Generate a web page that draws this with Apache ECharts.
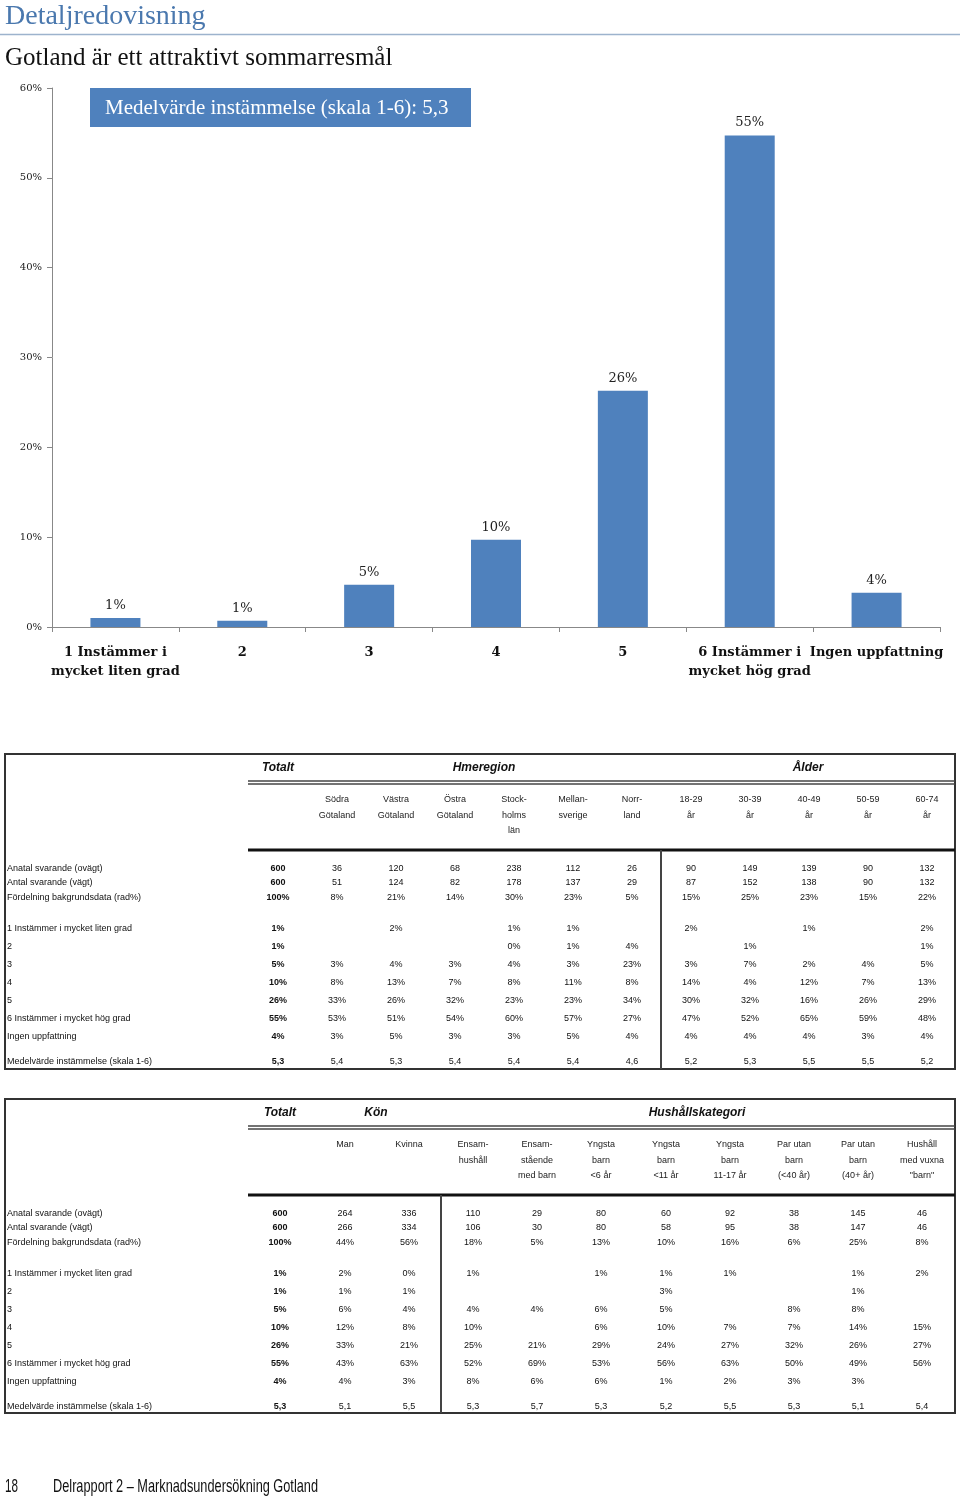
<!DOCTYPE html>
<html><head><meta charset="utf-8">
<script src="https://cdn.jsdelivr.net/npm/echarts@6/dist/echarts.min.js"></script>
<style>html,body{margin:0;padding:0;background:#fff}#c{width:960px;height:1499px}</style>
</head><body><div id="c"></div>
<script>
// ---------- Chart data ----------
const categories = ["1 Instämmer i\nmycket liten grad", "2", "3", "4", "5", "6 Instämmer i\nmycket hög grad", "Ingen uppfattning"];
const shares = [1.0, 0.7, 4.7, 9.7, 26.3, 54.7, 3.8];
const shareLabels = ["1%", "1%", "5%", "10%", "26%", "55%", "4%"];
const yTicks = [0, 10, 20, 30, 40, 50, 60];
const meanText = "Medelvärde instämmelse (skala 1-6): 5,3";

// ---------- Table data ----------
const rowLabels = ["Anatal svarande (ovägt)", "Antal svarande (vägt)", "Fördelning bakgrundsdata (rad%)",
  "1 Instämmer i mycket liten grad", "2", "3", "4", "5", "6 Instämmer i mycket hög grad", "Ingen uppfattning",
  "Medelvärde instämmelse (skala 1-6)"];

const t1Groups = ["Totalt", "Hmeregion", "Ålder"];
const t1Cols = ["", "Södra\nGötaland", "Västra\nGötaland", "Östra\nGötaland", "Stock-\nholms\nlän", "Mellan-\nsverige", "Norr-\nland",
  "18-29\når", "30-39\når", "40-49\når", "50-59\når", "60-74\når"];
const t1Unweighted = ["600", "36", "120", "68", "238", "112", "26", "90", "149", "139", "90", "132"];
const t1Weighted = ["600", "51", "124", "82", "178", "137", "29", "87", "152", "138", "90", "132"];
const t1Dist = ["100%", "8%", "21%", "14%", "30%", "23%", "5%", "15%", "25%", "23%", "15%", "22%"];
const t1R1 = ["1%", "", "2%", "", "1%", "1%", "", "2%", "", "1%", "", "2%"];
const t1R2 = ["1%", "", "", "", "0%", "1%", "4%", "", "1%", "", "", "1%"];
const t1R3 = ["5%", "3%", "4%", "3%", "4%", "3%", "23%", "3%", "7%", "2%", "4%", "5%"];
const t1R4 = ["10%", "8%", "13%", "7%", "8%", "11%", "8%", "14%", "4%", "12%", "7%", "13%"];
const t1R5 = ["26%", "33%", "26%", "32%", "23%", "23%", "34%", "30%", "32%", "16%", "26%", "29%"];
const t1R6 = ["55%", "53%", "51%", "54%", "60%", "57%", "27%", "47%", "52%", "65%", "59%", "48%"];
const t1None = ["4%", "3%", "5%", "3%", "3%", "5%", "4%", "4%", "4%", "4%", "3%", "4%"];
const t1Mean = ["5,3", "5,4", "5,3", "5,4", "5,4", "5,4", "4,6", "5,2", "5,3", "5,5", "5,5", "5,2"];

const t2Groups = ["Totalt", "Kön", "Hushållskategori"];
const t2Cols = ["", "Man", "Kvinna", "Ensam-\nhushåll", "Ensam-\nstående\nmed barn", "Yngsta\nbarn\n<6 år", "Yngsta\nbarn\n<11 år",
  "Yngsta\nbarn\n11-17 år", "Par utan\nbarn\n(<40 år)", "Par utan\nbarn\n(40+ år)", "Hushåll\nmed vuxna\n\"barn\""];
const t2Unweighted = ["600", "264", "336", "110", "29", "80", "60", "92", "38", "145", "46"];
const t2Weighted = ["600", "266", "334", "106", "30", "80", "58", "95", "38", "147", "46"];
const t2Dist = ["100%", "44%", "56%", "18%", "5%", "13%", "10%", "16%", "6%", "25%", "8%"];
const t2R1 = ["1%", "2%", "0%", "1%", "", "1%", "1%", "1%", "", "1%", "2%"];
const t2R2 = ["1%", "1%", "1%", "", "", "", "3%", "", "", "1%", ""];
const t2R3 = ["5%", "6%", "4%", "4%", "4%", "6%", "5%", "", "8%", "8%", ""];
const t2R4 = ["10%", "12%", "8%", "10%", "", "6%", "10%", "7%", "7%", "14%", "15%"];
const t2R5 = ["26%", "33%", "21%", "25%", "21%", "29%", "24%", "27%", "32%", "26%", "27%"];
const t2R6 = ["55%", "43%", "63%", "52%", "69%", "53%", "56%", "63%", "50%", "49%", "56%"];
const t2None = ["4%", "4%", "3%", "8%", "6%", "6%", "1%", "2%", "3%", "3%", ""];
const t2Mean = ["5,3", "5,1", "5,5", "5,3", "5,7", "5,3", "5,2", "5,5", "5,3", "5,1", "5,4"];

const pageHeading = "Detaljredovisning";
const chartTitle = "Gotland är ett attraktivt sommarresmål";
const footerPage = "18";
const footerText = "Delrapport 2 – Marknadsundersökning Gotland";

// ---------- Build ----------
const SERIF = "'DejaVu Serif', 'Liberation Serif', serif";
const SANS = "'Liberation Sans', Arial, sans-serif";
const BLUE = "#4F81BD";
const g = [];

function txt(text, x, y, font, fill, align, vAlign) {
  g.push({ type: 'text', silent: true, style: { text: text, x: x, y: y, font: font, fill: fill || '#000',
    align: align || 'left', verticalAlign: vAlign || 'middle' } });
}
function narrowTxt(text, x, y, font, targetWidth) {
  const ctx = document.createElement('canvas').getContext('2d');
  ctx.font = font;
  const w = ctx.measureText(text).width;
  const s = targetWidth / w;
  g.push({ type: 'text', silent: true, x: x, y: y, scaleX: s, scaleY: 1,
    style: { text: text, x: 0, y: 0, font: font, fill: '#111', align: 'left', verticalAlign: 'middle' } });
}
function line(x1, y1, x2, y2, w, c) {
  g.push({ type: 'line', silent: true, shape: { x1: x1, y1: y1, x2: x2, y2: y2 }, style: { stroke: c || '#333', lineWidth: w } });
}
function rect(x, y, w, h, fill, stroke, lw) {
  g.push({ type: 'rect', silent: true, shape: { x: x, y: y, width: w, height: h },
    style: { fill: fill || 'none', stroke: stroke || null, lineWidth: lw || 0 } });
}

// Headings
txt(pageHeading, 5, 17, "28px 'Liberation Serif', serif", "#4A78AE", 'left');
line(0, 34.5, 960, 34.5, 1.5, "#9DB3CD");
txt(chartTitle, 5, 58, "25px 'Liberation Serif', serif", "#111", 'left');
rect(90, 88, 381, 39, BLUE);
txt(meanText, 105, 108, "21px 'Liberation Serif', serif", "#fff", 'left');

function buildTable(cfg) {
  const top = cfg.top, bottom = cfg.bottom;
  rect(5, top, 950, bottom - top, 'none', '#333', 2);
  cfg.groups.forEach((gname, i) => txt(gname, cfg.groupX[i], top + 14, "italic bold 12px " + SANS, "#111", 'center'));
  line(248, top + 27, 955, top + 27, 1.5, '#444');
  line(248, top + 30, 955, top + 30, 1.5, '#444');
  cfg.cols.forEach((c, i) => {
    c.split('\n').forEach((ln, k) => txt(ln, cfg.colX[i], top + 46 + k * 15.5, "9px " + SANS, "#222", 'center'));
  });
  line(248, top + 96, 955, top + 96, 3, '#111');
  line(cfg.vline, top + 96, cfg.vline, bottom, 2, '#444');
  const rowY = [115, 129, 144, 175, 193, 211, 229, 247, 265, 283, 308];
  cfg.rows.forEach((vals, r) => {
    const y = top + rowY[r];
    txt(rowLabels[r], 7, y, "9px " + SANS, "#111", 'left');
    vals.forEach((v, i) => {
      if (v !== "") txt(v, cfg.colX[i], y, (i === 0 ? "bold " : "") + "9px " + SANS, "#111", 'center');
    });
  });
}

const t1X = [278, 337, 396, 455, 514, 573, 632, 691, 750, 809, 868, 927];
buildTable({ top: 754, bottom: 1069, groups: t1Groups, groupX: [278, 484, 808], cols: t1Cols, colX: t1X, vline: 661,
  rows: [t1Unweighted, t1Weighted, t1Dist, t1R1, t1R2, t1R3, t1R4, t1R5, t1R6, t1None, t1Mean] });

const t2X = [280, 345, 409, 473, 537, 601, 666, 730, 794, 858, 922];
buildTable({ top: 1099, bottom: 1413, groups: t2Groups, groupX: [280, 376, 697], cols: t2Cols, colX: t2X, vline: 441,
  rows: [t2Unweighted, t2Weighted, t2Dist, t2R1, t2R2, t2R3, t2R4, t2R5, t2R6, t2None, t2Mean] });

// Footer (condensed look)
narrowTxt(footerPage, 5, 1487, "19px 'Liberation Sans', sans-serif", 13);
narrowTxt(footerText, 53, 1487, "19px 'Liberation Sans', sans-serif", 265);

const chart = echarts.init(document.getElementById('c'), null, { renderer: 'canvas' });
chart.setOption({
  animation: false,
  backgroundColor: '#fff',
  grid: { left: 52, right: 20, top: 88, bottom: 872, containLabel: false },
  xAxis: {
    type: 'category', data: categories,
    axisLine: { lineStyle: { color: '#888', width: 1 } },
    axisTick: { show: true, alignWithLabel: false, length: 5, lineStyle: { color: '#888' } },
    axisLabel: { interval: 0, margin: 16, lineHeight: 19, fontFamily: SERIF, fontWeight: 'bold', fontSize: 13, color: '#111' }
  },
  yAxis: {
    type: 'value', min: yTicks[0], max: yTicks[yTicks.length - 1], interval: yTicks[1] - yTicks[0],
    splitLine: { show: false },
    axisLine: { show: true, lineStyle: { color: '#888' } },
    axisTick: { show: true, length: 5, lineStyle: { color: '#888' } },
    axisLabel: { formatter: '{value}%', fontFamily: SERIF, fontSize: 10, color: '#222', margin: 10 }
  },
  series: [{
    type: 'bar', data: shares, barWidth: 50,
    itemStyle: { color: BLUE },
    label: { show: true, position: 'top', distance: 6, fontFamily: SERIF, fontSize: 13, color: '#222',
      formatter: p => shareLabels[p.dataIndex] }
  }],
  graphic: g
});
</script></body></html>
